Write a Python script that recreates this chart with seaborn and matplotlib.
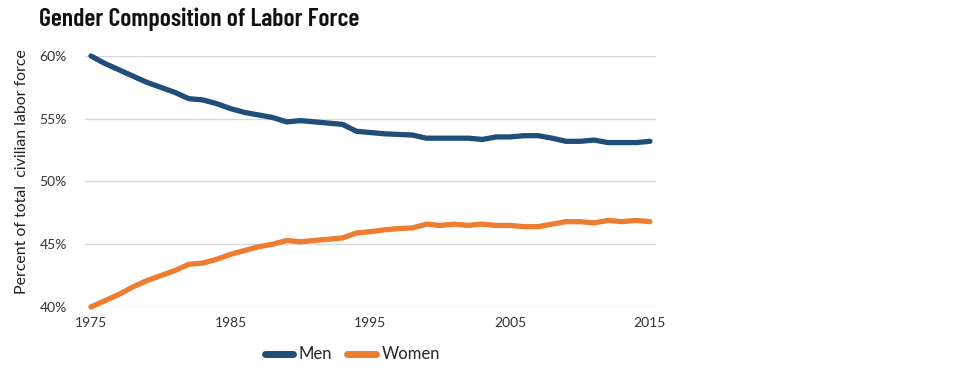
import pandas as pd
import seaborn as sns
import matplotlib.pyplot as plt
from matplotlib.ticker import FuncFormatter

# ---------------------------------------------------------
# Data (share of civilian labor force, %)
# ---------------------------------------------------------
years = list(range(1975, 2016))
men = [60.0, 59.4, 58.9, 58.4, 57.9, 57.5, 57.1, 56.6, 56.5, 56.2,
       55.8, 55.5, 55.3, 55.1, 54.75, 54.85, 54.75, 54.65, 54.55, 54.0,
       53.9, 53.8, 53.75, 53.7, 53.45, 53.45, 53.45, 53.45, 53.35, 53.55,
       53.55, 53.65, 53.65, 53.45, 53.2, 53.2, 53.3, 53.1, 53.1, 53.1, 53.2]
women = [40.0, 40.5, 41.0, 41.6, 42.1, 42.5, 42.9, 43.4, 43.5, 43.8,
         44.2, 44.5, 44.8, 45.0, 45.3, 45.2, 45.3, 45.4, 45.5, 45.9,
         46.0, 46.15, 46.25, 46.3, 46.6, 46.5, 46.6, 46.5, 46.6, 46.5,
         46.5, 46.4, 46.4, 46.6, 46.8, 46.8, 46.7, 46.9, 46.8, 46.9, 46.8]
xticks = [1975, 1985, 1995, 2005, 2015]
yticks = [40, 45, 50, 55, 60]

df = pd.DataFrame({
    "year": years * 2,
    "share": men + women,
    "sex": ["Men"] * len(years) + ["Women"] * len(years),
})

# ---------------------------------------------------------
# Plot
# ---------------------------------------------------------
sns.set_theme(style="white")
plt.rcParams["font.family"] = ["Lato", "DejaVu Sans"]

fig = plt.figure(figsize=(9.6, 3.77), dpi=100)
ax = fig.add_axes([0.0885, 0.1857, 0.5948, 0.6658])

sns.lineplot(data=df, x="year", y="share", hue="sex",
             palette={"Men": "#1f4e79", "Women": "#ed7d31"},
             linewidth=3.8, solid_capstyle="round", ax=ax, clip_on=False)

ax.set_xlim(1974.57, 2015.43)
ax.set_ylim(40, 60)
ax.set_xticks(xticks)
ax.set_yticks(yticks)
ax.yaxis.set_major_formatter(FuncFormatter(lambda v, p: f"{v:.0f}%"))
ax.tick_params(axis="both", length=0, labelsize=10, colors="#333333")
ax.tick_params(axis="y", pad=13)
ax.tick_params(axis="x", pad=7)
ax.grid(axis="y", color="#d9d9d9", linewidth=1)
ax.set_axisbelow(True)
for s in ax.spines.values():
    s.set_visible(False)

ax.set_xlabel("")
ax.set_ylabel("Percent of total  civilian labor force", fontsize=11.4,
              color="#222222")
ax.yaxis.set_label_coords(-0.098, 0.54)

handles, labels = ax.get_legend_handles_labels()
ax.get_legend().remove()
leg = fig.legend(handles, labels, loc="center", bbox_to_anchor=(0.367, 0.06),
                 ncol=2, frameon=False, fontsize=12, handlelength=1.7,
                 columnspacing=0.9, handletextpad=0.35)
for line in leg.get_lines():
    line.set_linewidth(5)
    line.set_solid_capstyle("round")

fig.text(0.041, 0.95, "Gender Composition of Labor Force", fontsize=18.5,
         fontweight="semibold", family=["Barlow Condensed", "DejaVu Sans"],
         color="#111111", va="center", ha="left")

fig.savefig("out.png", dpi=100)
